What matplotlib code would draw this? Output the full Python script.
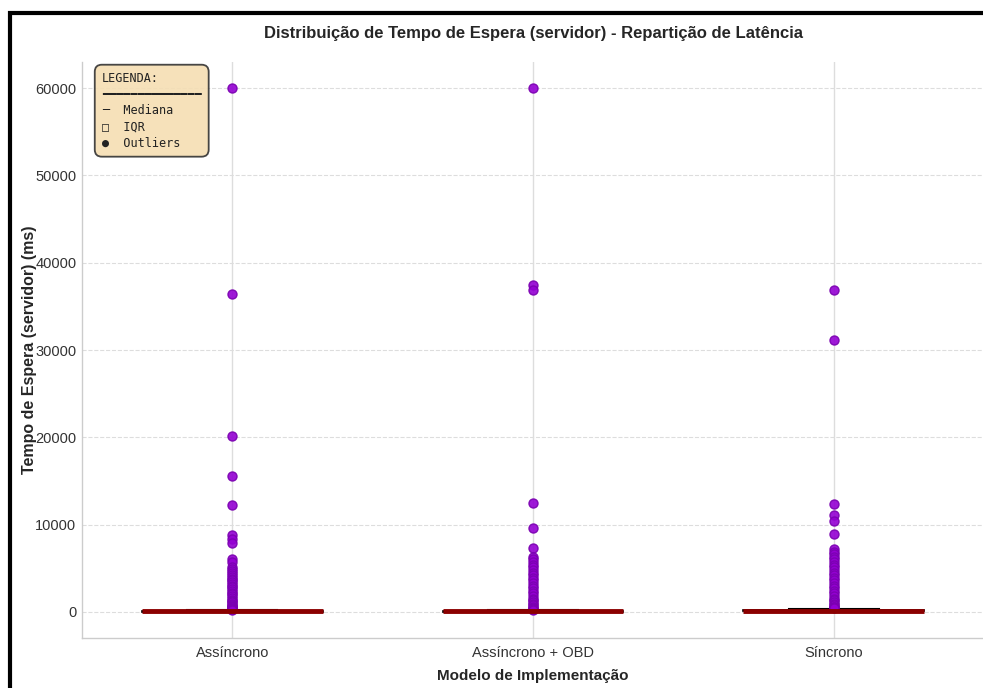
import matplotlib
matplotlib.use("Agg")
import matplotlib.pyplot as plt
import matplotlib.patches as patches

plt.rcParams['font.family'] = ['Liberation Sans', 'DejaVu Sans']

# categorias e estatisticas (ms)
modelos = ["Assíncrono", "Assíncrono + OBD", "Síncrono"]
q1 = [20, 20, 60]
mediana = [60, 55, 110]
q3 = [110, 100, 180]
whis_lo = [0, 0, 0]
whis_hi = [230, 210, 350]

outliers_async = [60000, 36400, 20100, 15600, 12200, 8800, 8300, 7900, 6100, 5700,
                  5100, 4900, 4700, 4500, 4200, 4000, 3800, 3600, 3400, 3200, 3000,
                  2800, 2600, 2400, 2200, 2000, 1800, 1600, 1400, 1250, 1100, 950,
                  800, 700, 600, 500, 420, 350, 300, 260]
outliers_obd = [60000, 37500, 36900, 12500, 9600, 7300, 6300, 6000, 5700, 5400, 5100,
                4800, 4500, 4200, 3900, 3600, 3300, 3000, 2700, 2400, 2100, 1800,
                1500, 1300, 1100, 900, 750, 600, 480, 380, 300, 250]
outliers_sync = [36900, 31200, 12300, 11100, 10400, 8950, 7200, 6900, 6600, 6300, 6000,
                 5700, 5400, 5100, 4800, 4500, 4200, 3900, 3600, 3300, 3000, 2700,
                 2400, 2100, 1800, 1500, 1300, 1100, 900, 750, 600, 500, 420]
outliers = [outliers_async, outliers_obd, outliers_sync]

stats = []
for i in range(len(modelos)):
    stats.append({
        "label": modelos[i],
        "q1": q1[i], "med": mediana[i], "q3": q3[i],
        "whislo": whis_lo[i], "whishi": whis_hi[i],
        "fliers": outliers[i],
    })

fig = plt.figure(figsize=(9.83, 6.88), dpi=100)
ax = fig.add_axes([82/983, 50/688, 902/983, 576/688])

ax.bxp(stats, positions=range(len(modelos)), widths=0.6, patch_artist=True,
       boxprops=dict(facecolor='lightblue', edgecolor='black', linewidth=1.2),
       medianprops=dict(color='darkred', linewidth=3.5),
       whiskerprops=dict(color='black', linewidth=1.2),
       capprops=dict(color='black', linewidth=1.5),
       flierprops=dict(marker='o', markerfacecolor='darkviolet', markeredgecolor='#7a00b0',
                       markersize=6.5, alpha=0.9))

ax.set_xlim(-0.5, 2.5)
ax.set_ylim(-3000, 63000)
ax.set_yticks([0, 10000, 20000, 30000, 40000, 50000, 60000])

ax.yaxis.grid(True, linestyle='--', color='#dddddd', linewidth=0.8)
ax.xaxis.grid(True, linestyle='-', color='#dddddd', linewidth=1.0)
ax.set_axisbelow(True)
for s in ['top', 'right']:
    ax.spines[s].set_visible(False)
for s in ['left', 'bottom']:
    ax.spines[s].set_color('#cccccc')
    ax.spines[s].set_linewidth(1.0)
ax.tick_params(length=0, labelsize=10.5, colors='#333333')
ax.tick_params(axis='y', pad=4)
ax.tick_params(axis='x', pad=6)

ax.set_title("Distribuição de Tempo de Espera (servidor) - Repartição de Latência",
             fontsize=12, fontweight='bold', color='#262626', pad=17)
ax.set_xlabel("Modelo de Implementação", fontsize=11, fontweight='bold', color='#262626', labelpad=6)
ax.set_ylabel("Tempo de Espera (servidor) (ms)", fontsize=11.5, fontweight='bold', color='#262626', labelpad=-1)

legenda = "LEGENDA:\n" + "━" * 14 + "\n─  Mediana\n□  IQR\n●  Outliers"
ax.text(0.022, 0.983, legenda, transform=ax.transAxes, va='top', ha='left',
        fontsize=8.5, family='DejaVu Sans Mono', color='#222222', linespacing=1.32,
        bbox=dict(boxstyle='round,pad=0.6', facecolor='wheat', edgecolor='#333333',
                  linewidth=1.3, alpha=0.9))

# moldura da figura
fig.patches.append(patches.Rectangle((10/983, -0.2), 1.5, 1.2 - 13/688,
                                     transform=fig.transFigure, fill=False,
                                     edgecolor='black', linewidth=3, clip_on=False))

fig.savefig("out.png", dpi=100)
